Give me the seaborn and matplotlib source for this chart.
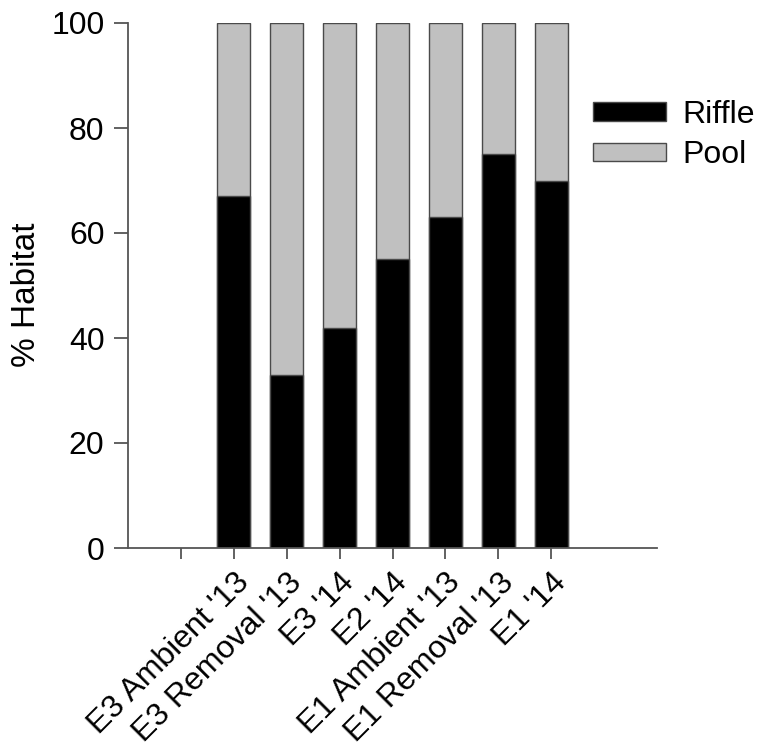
import matplotlib
matplotlib.use("Agg")
import matplotlib.pyplot as plt
import matplotlib.transforms as mtransforms
import seaborn as sns
import pandas as pd
from matplotlib.patches import Patch

sns.set_theme(style="white")
plt.rcParams['font.family'] = ['Liberation Sans', 'DejaVu Sans']
plt.rcParams['text.color'] = 'black'
plt.rcParams['axes.labelcolor'] = 'black'
plt.rcParams['xtick.labelcolor'] = 'black'
plt.rcParams['ytick.labelcolor'] = 'black'

# Habitat composition per reach / year
sites = ["E3 Ambient '13", "E3 Removal '13", "E3 '14", "E2 '14",
         "E1 Ambient '13", "E1 Removal '13", "E1 '14"]
riffle = [67, 33, 42, 55, 63, 75, 70]
pool = [33, 67, 58, 45, 37, 25, 30]

series_labels = ["Riffle", "Pool"]
riffle_color = "#000000"
pool_color = "#c0c0c0"
edge_color = "#4a4a4a"
axis_color = "#555555"

df = pd.DataFrame({"site": sites, "riffle": riffle, "pool": pool})
df["total"] = df["riffle"] + df["pool"]

# a blank slot precedes the first reach on the category axis
order = [""] + sites

fig = plt.figure(figsize=(7.59, 7.47), dpi=100)
ax = fig.add_axes([128 / 759, 1 - 548 / 747, (657 - 128) / 759, (548 - 23) / 747])

bar_kw = dict(order=order, width=0.63, linewidth=1.0, edgecolor=edge_color,
              errorbar=None, saturation=1, ax=ax)
sns.barplot(data=df, x="site", y="total", color=pool_color, **bar_kw)
sns.barplot(data=df, x="site", y="riffle", color=riffle_color, **bar_kw)

ax.set_xlim(-1, 9)
ax.set_ylim(0, 100)
ax.set_yticks([0, 20, 40, 60, 80, 100])
ax.set_xticks(range(len(order)))
ax.set_xticklabels(order, rotation=45, ha="right", rotation_mode="anchor",
                   fontsize=23)
# nudge the slanted category labels a little to the left
shift = mtransforms.ScaledTranslation(-7 / 100, -1 / 100, fig.dpi_scale_trans)
for lbl in ax.get_xticklabels():
    lbl.set_transform(lbl.get_transform() + shift)

ax.tick_params(axis="y", labelsize=23, length=10, width=1.3, color=axis_color,
               direction="out", left=True, pad=7)
ax.tick_params(axis="x", length=8, width=1.3, color=axis_color,
               direction="out", bottom=True, pad=6)
ax.set_xlabel("")
ax.set_ylabel("% Habitat", fontsize=24)
ax.yaxis.set_label_coords(-0.163, 0.483)

sns.despine(ax=ax)
for side in ("left", "bottom"):
    ax.spines[side].set_color(axis_color)
    ax.spines[side].set_linewidth(1.3)

handles = [Patch(facecolor=riffle_color, edgecolor=edge_color, linewidth=1.0),
           Patch(facecolor=pool_color, edgecolor=edge_color, linewidth=1.0)]
fig.legend(handles, series_labels, loc="upper left",
           bbox_to_anchor=(580 / 759, 1 - 87 / 747), frameon=False,
           fontsize=23, handlelength=2.3, handleheight=0.52,
           labelspacing=0.33, handletextpad=0.5, borderaxespad=0)

fig.savefig("out.png", dpi=100, facecolor="white")
